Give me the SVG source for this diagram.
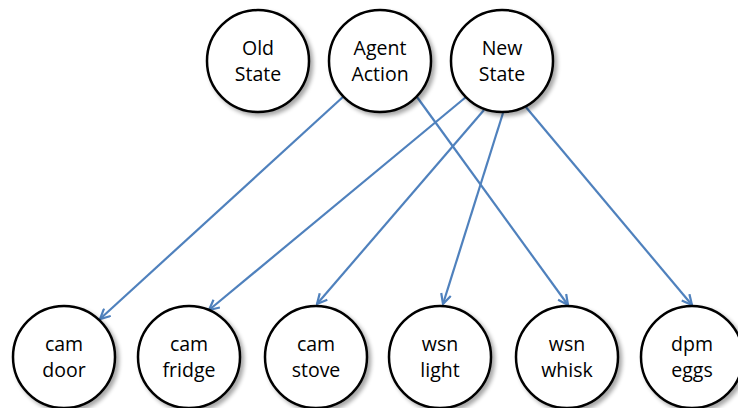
<svg xmlns="http://www.w3.org/2000/svg" width="738" height="408" viewBox="0 0 738 408">
  <defs>
    <filter id="shadow" x="-20%" y="-20%" width="150%" height="150%">
      <feGaussianBlur in="SourceAlpha" stdDeviation="2"/>
      <feOffset dx="2.5" dy="2.5" result="off"/>
      <feComponentTransfer><feFuncA type="linear" slope="0.35"/></feComponentTransfer>
      <feMerge><feMergeNode/><feMergeNode in="SourceGraphic"/></feMerge>
    </filter>
    <marker id="arrow" viewBox="0 0 12 12" refX="11" refY="6" markerWidth="12" markerHeight="12" markerUnits="userSpaceOnUse" orient="auto">
      <path d="M1,1 L11,6 L1,11" fill="none" stroke="#4F81BD" stroke-width="2.2" stroke-linejoin="miter"/>
    </marker>
    <style>
      .node circle { fill: #ffffff; stroke: #000000; stroke-width: 2.5; }
      .node text { font-family: "Open Sans", "Liberation Sans", sans-serif; font-size: 19.5px; fill: #000000; text-anchor: middle; }
      .edge { stroke: #4F81BD; stroke-width: 2.2; fill: none; marker-end: url(#arrow); }
    </style>
  </defs>
  <rect width="738" height="408" fill="#ffffff"/>

  <!-- dependencies -->
  <g id="connectors">
    <line class="edge" x1="344" y1="96" x2="100" y2="319"/>
    <line class="edge" x1="417" y1="97" x2="568" y2="305"/>
    <line class="edge" x1="466" y1="97" x2="209" y2="310"/>
    <line class="edge" x1="484" y1="110" x2="317" y2="304"/>
    <line class="edge" x1="503" y1="113" x2="443" y2="304"/>
    <line class="edge" x1="525" y1="106" x2="692" y2="305"/>
  </g>

  <!-- top row -->
  <g id="old-state" class="node">
    <circle cx="258" cy="61" r="51" filter="url(#shadow)"/>
    <text x="258" y="55">Old</text>
    <text x="258" y="81">State</text>
  </g>
  <g id="agent-action" class="node">
    <circle cx="380" cy="61" r="51" filter="url(#shadow)"/>
    <text x="380" y="55">Agent</text>
    <text x="380" y="81">Action</text>
  </g>
  <g id="new-state" class="node">
    <circle cx="502" cy="61" r="51" filter="url(#shadow)"/>
    <text x="502" y="55">New</text>
    <text x="502" y="81">State</text>
  </g>

  <!-- bottom row -->
  <g id="cam-door" class="node">
    <circle cx="64" cy="357" r="51" filter="url(#shadow)"/>
    <text x="64" y="351">cam</text>
    <text x="64" y="377">door</text>
  </g>
  <g id="cam-fridge" class="node">
    <circle cx="189" cy="357" r="51" filter="url(#shadow)"/>
    <text x="189" y="351">cam</text>
    <text x="189" y="377">fridge</text>
  </g>
  <g id="cam-stove" class="node">
    <circle cx="316" cy="357" r="51" filter="url(#shadow)"/>
    <text x="316" y="351">cam</text>
    <text x="316" y="377">stove</text>
  </g>
  <g id="wsn-light" class="node">
    <circle cx="440" cy="357" r="51" filter="url(#shadow)"/>
    <text x="440" y="351">wsn</text>
    <text x="440" y="377">light</text>
  </g>
  <g id="wsn-whisk" class="node">
    <circle cx="567" cy="357" r="51" filter="url(#shadow)"/>
    <text x="567" y="351">wsn</text>
    <text x="567" y="377">whisk</text>
  </g>
  <g id="dpm-eggs" class="node">
    <circle cx="692" cy="357" r="51" filter="url(#shadow)"/>
    <text x="692" y="351">dpm</text>
    <text x="692" y="377">eggs</text>
  </g>
</svg>
